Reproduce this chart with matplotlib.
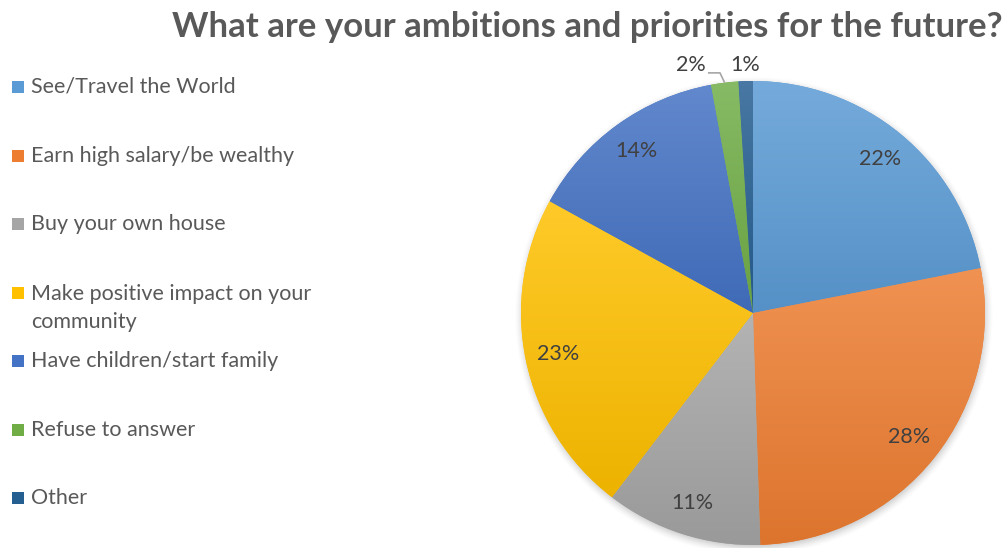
import numpy as np
import matplotlib
matplotlib.use("Agg")
import matplotlib.pyplot as plt
from matplotlib.patches import Rectangle
from matplotlib.colors import to_rgb

# Survey answers, shares in percent (clockwise from 12 o'clock)
categories = [
    "See/Travel the World",
    "Earn high salary/be wealthy",
    "Buy your own house",
    "Make positive impact on your\ncommunity",
    "Have children/start family",
    "Refuse to answer",
    "Other",
]
shares = [21.9, 27.6, 10.9, 22.6, 14.1, 1.9, 1.0]
colors = ["#5B9BD5", "#ED7D31", "#A5A5A5", "#FFC000", "#4472C4", "#70AD47", "#255E91"]
title = "What are your ambitions and priorities for the future?"

W, H = 1003, 548
fig = plt.figure(figsize=(W / 100, H / 100), dpi=100)
fig.patch.set_facecolor("white")

# Pie axes: centre (753, 313) px, radius 232 px
cx, cy, R = 753, 313, 232
half = 250
ax = fig.add_axes([(cx - half) / W, (H - cy - half) / H, 2 * half / W, 2 * half / H])
lim = half / R
ax.set_xlim(-lim, lim)
ax.set_ylim(-lim, lim)
ax.set_aspect("equal")
ax.axis("off")

# soft drop shadow around the pie
n = 400
g = np.linspace(-lim, lim, n)
X, Y = np.meshgrid(g, g)
rr = np.hypot(X - 0.004, Y + 0.012)
shadow = np.clip((1.035 - rr) / 0.05, 0, 1) ** 1.5 * 0.35
rgba = np.zeros((n, n, 4))
rgba[..., :3] = 0.35
rgba[..., 3] = shadow
ax.imshow(rgba, extent=(-lim, lim, -lim, lim), origin="lower", zorder=0, interpolation="bilinear")

wedges, texts, autotexts = ax.pie(
    shares,
    colors=colors,
    startangle=90,
    counterclock=False,
    radius=1.0,
    autopct=lambda p: f"{p:.0f}%",
    pctdistance=0.86,
    wedgeprops=dict(linewidth=0, zorder=1),
    textprops=dict(color="#404040", fontsize=15.5, family="Lato"),
)

# vertical gradient inside every wedge: lighter at its top, deeper at its bottom
for w, c in zip(wedges, colors):
    base = np.array(to_rgb(c))
    top = base + (1 - base) * 0.16
    bot = base * 0.93
    ext = w.get_path().get_extents(w.get_patch_transform())
    t = np.linspace(0, 1, 256)[:, None]
    grad = bot[None, :] * (1 - t) + top[None, :] * t
    img = np.repeat(grad[:, None, :], 2, axis=1)
    im = ax.imshow(img, extent=(ext.x0, ext.x1, ext.y0, ext.y1), origin="lower",
                   zorder=2, interpolation="bilinear", aspect="auto")
    im.set_clip_path(w)

ax.set_xlim(-lim, lim)
ax.set_ylim(-lim, lim)

for t in autotexts:
    t.set_zorder(5)

# small slices: labels outside the pie
cum = np.cumsum([0] + shares[:-1])
tot = sum(shares)

def mid_angle(i):
    frac = (cum[i] + shares[i] / 2) / tot
    return np.deg2rad(90 - 360 * frac)

# "Other" (1%)
a = mid_angle(6)
autotexts[6].set_position((1.07 * np.cos(a), 1.07 * np.sin(a)))
# "Refuse to answer" (2%) with leader line
a = mid_angle(5)
p0 = (np.cos(a), np.sin(a))
p1 = (p0[0] - 0.02, 1.035)
p2 = (p1[0] - 0.052, 1.035)
ax.plot([p0[0], p1[0], p2[0]], [p0[1], p1[1], p2[1]], color="#A6A6A6", lw=1.2,
        zorder=4, clip_on=False, solid_capstyle="butt")
autotexts[5].set_position((p2[0] - 0.008, 1.07))
autotexts[5].set_ha("right")

# title
fig.text(587 / W, 1 - 27 / H, title, ha="center", va="center",
         fontsize=25, fontweight="bold", color="#595959", family="Lato")

# legend
leg_y = [87, 156, 224, 293, 361, 430, 498]
for c, lab, y in zip(colors, categories, leg_y):
    fig.patches.append(Rectangle((12 / W, 1 - (y + 6) / H), 12 / W, 12 / H,
                                 transform=fig.transFigure, facecolor=c, edgecolor="none"))
    if "\n" in lab:
        fig.text(31 / W, 1 - (y - 9) / H, lab, ha="left", va="top",
                 fontsize=15.5, color="#595959", family="Lato", linespacing=1.48)
    else:
        fig.text(31 / W, 1 - y / H, lab, ha="left", va="center",
                 fontsize=15.5, color="#595959", family="Lato")

fig.savefig("out.png", dpi=100, facecolor="white")
